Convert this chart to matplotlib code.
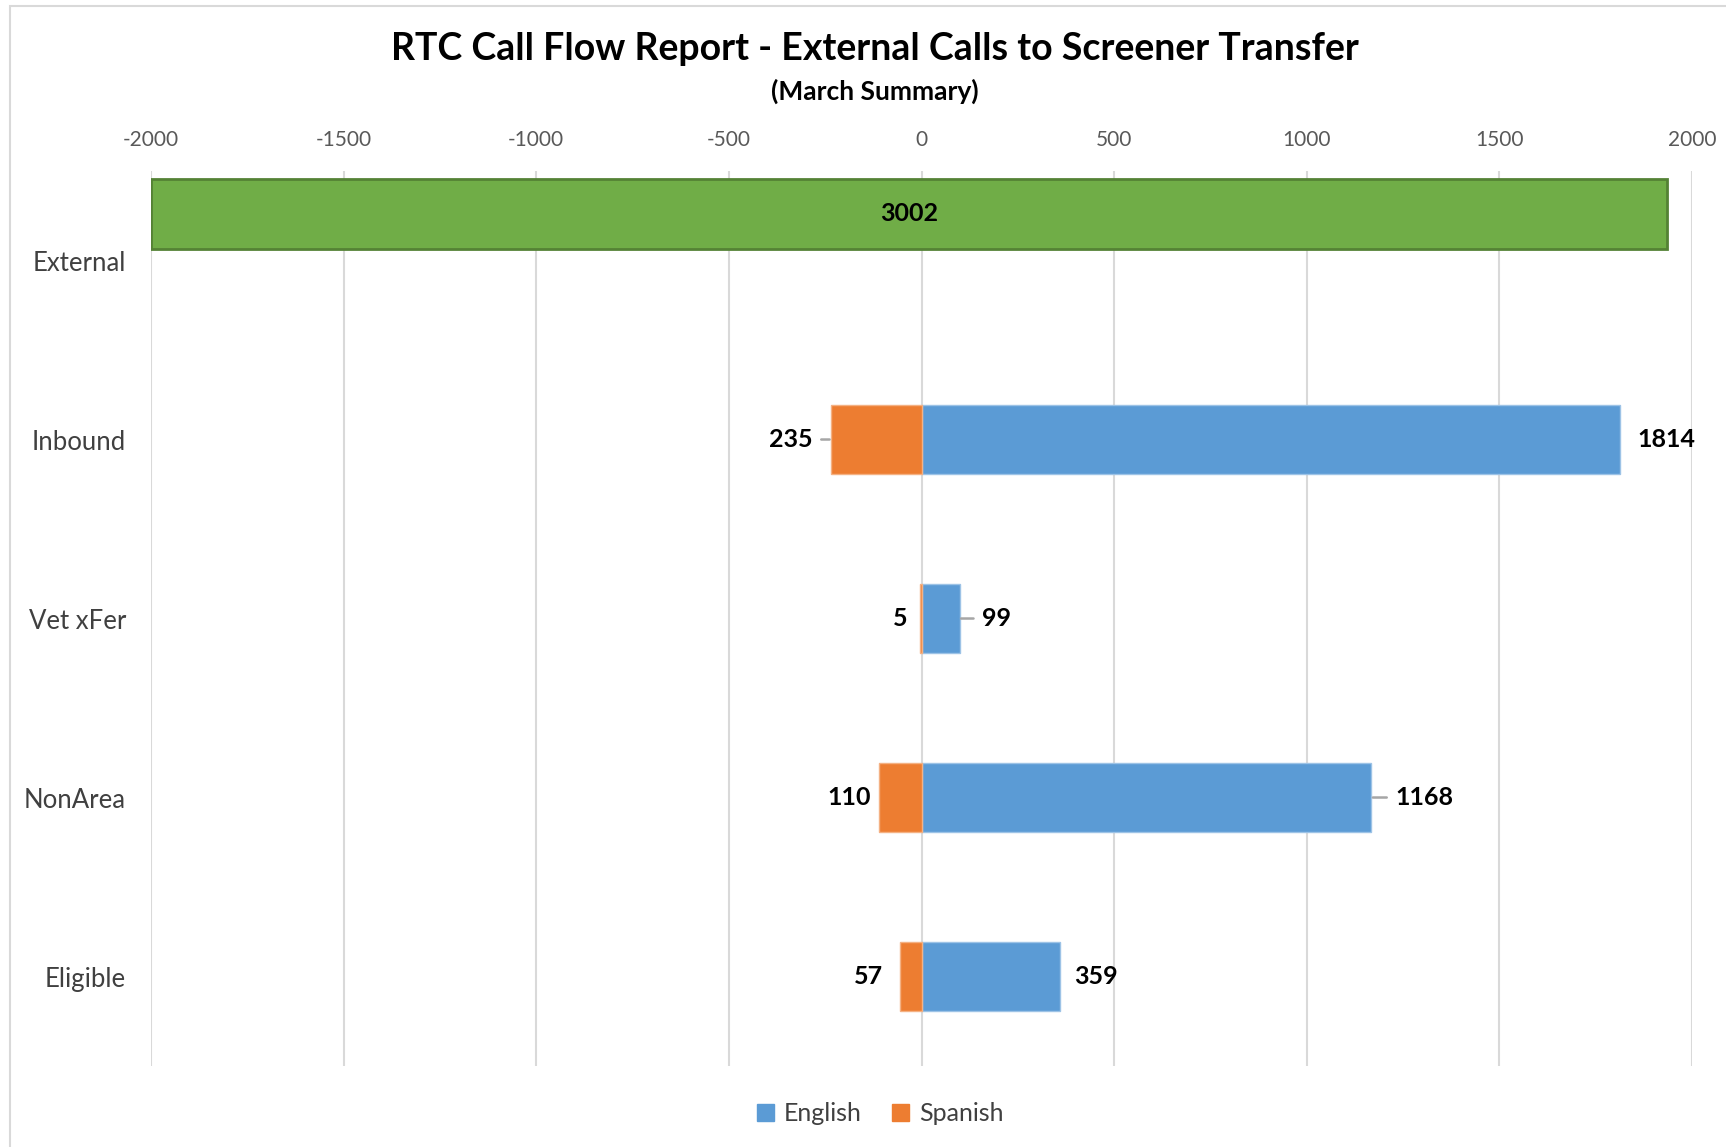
import matplotlib.pyplot as plt
from matplotlib.patches import Patch, Rectangle

plt.rcParams['font.family'] = ['Lato', 'DejaVu Sans']

categories = ['External', 'Inbound', 'Vet xFer', 'NonArea', 'Eligible']
external_total = 3002
english = [1814, 99, 1168, 359]
spanish = [235, 5, 110, 57]
ticks = [-2000, -1500, -1000, -500, 0, 500, 1000, 1500, 2000]

# label offsets in points, and whether a leader line is drawn
spanish_off = [13, 9, 6, 12]
spanish_lead = [True, False, False, False]
english_off = [12, 16, 17, 10]
english_lead = [False, True, True, False]

blue = '#5B9BD5'
orange = '#ED7D31'
green = '#70AD47'

fig = plt.figure(figsize=(17.26, 11.47), dpi=100)
fig.patches.append(Rectangle((10 / 1726, -0.05), 1.2, 1.05 - 6 / 1147,
                             transform=fig.transFigure, fill=False,
                             edgecolor='#d9d9d9', lw=1.5))

ax = fig.add_axes([0.0875, 0.0706, 0.8928, 0.7803])

# external total sits on a hidden secondary axis starting at the left edge
ax2 = ax.twiny()

ax.set_xlim(-2000, 2000)
ax.set_ylim(4.5, -0.5)
ax.set_xticks(ticks)
ax.set_xticklabels([str(t) for t in ticks])
ax.xaxis.tick_top()
ax.tick_params(axis='x', length=0, pad=15, labelsize=15, labelcolor='#595959',
               labeltop=True, labelbottom=False)
ax.set_yticks(range(len(categories)))
ax.set_yticklabels(categories)
ax.tick_params(axis='y', length=0, pad=18, labelsize=18.5, labelcolor='#404040')
ax.grid(axis='x', color='#d9d9d9', lw=1.5)
ax.set_axisbelow(True)
for s in ax.spines.values():
    s.set_visible(False)

ypos = list(range(1, len(categories)))
h = 0.39
ax.barh(ypos, english, height=h, color=blue, edgecolor='#9dc3e6', lw=1)
ax.barh(ypos, [-v for v in spanish], height=h, color=orange, edgecolor='#f4b183', lw=1)

lead = dict(arrowstyle='-', color='#a6a6a6', lw=1.8, shrinkA=4, shrinkB=1)
for y, v, off, ld in zip(ypos, english, english_off, english_lead):
    ax.annotate(str(v), xy=(v, y), xytext=(off, 0), textcoords='offset points',
                ha='left', va='center', fontsize=18, fontweight='bold', color='black',
                arrowprops=lead if ld else None)
for y, v, off, ld in zip(ypos, spanish, spanish_off, spanish_lead):
    ax.annotate(str(v), xy=(-v, y), xytext=(-off, 0), textcoords='offset points',
                ha='right', va='center', fontsize=18, fontweight='bold', color='black',
                arrowprops=lead if ld else None)

ax2.set_xlim(0, 3052)
ax2.set_xticks([])
ax2.tick_params(axis='x', length=0, labeltop=False, labelbottom=False)
for s in ax2.spines.values():
    s.set_visible(False)
ext = ax2.barh([-0.26], [external_total], height=h, color=green, edgecolor='#548235', lw=2)
ax2.bar_label(ext, labels=[str(external_total)], label_type='center',
              fontsize=18, fontweight='bold', color='black')

fig.text(0.507, 0.957, 'RTC Call Flow Report - External Calls to Screener Transfer',
         ha='center', va='center', fontsize=27, fontweight='bold', color='black')
fig.text(0.507, 0.920, '(March Summary)', ha='center', va='center',
         fontsize=19, fontweight='bold', color='black')

handles = [Patch(color=blue, label='English'), Patch(color=orange, label='Spanish')]
fig.legend(handles=handles, loc='center', bbox_to_anchor=(0.51, 0.029), ncol=2,
           frameon=False, fontsize=18, handlelength=0.7, handleheight=0.7,
           handletextpad=0.4, columnspacing=1.2, labelcolor='#404040')

fig.savefig('out.png', dpi=100)
